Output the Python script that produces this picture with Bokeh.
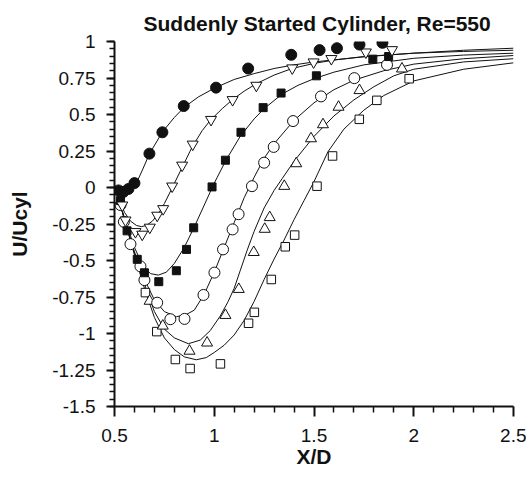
from bokeh.plotting import figure
from bokeh.models import Range1d, FixedTicker, CustomJSTickFormatter
from bokeh.embed import file_html
from bokeh.resources import INLINE

# ---------------- data ----------------
x_ticks = [0.5, 1.0, 1.5, 2.0, 2.5]
x_tick_labels = ["0.5", "1", "1.5", "2", "2.5"]
x_minor = [0.6, 0.7, 0.8, 0.9, 1.1, 1.2, 1.3, 1.4, 1.6, 1.7, 1.8, 1.9, 2.1, 2.2, 2.3, 2.4]
y_ticks = [-1.5, -1.25, -1.0, -0.75, -0.5, -0.25, 0.0, 0.25, 0.5, 0.75, 1.0]
y_tick_labels = ["-1.5", "-1.25", "-1", "-0.75", "-0.5", "-0.25", "0", "0.25", "0.5", "0.75", "1"]
y_minor = [round(-1.5 + 0.05 * i, 2) for i in range(51)]

# filled circles
fc_x = [0.52, 0.545, 0.57, 0.6, 0.675, 0.74, 0.847, 1.009, 1.17, 1.386, 1.528, 1.615, 1.728, 1.843]
fc_y = [-0.02, -0.03, -0.01, 0.03, 0.232, 0.378, 0.558, 0.684, 0.815, 0.909, 0.941, 0.954, 0.979, 0.991]
# open down triangles
dt_x = [0.539, 0.555, 0.605, 0.639, 0.677, 0.714, 0.744, 0.789, 0.839, 0.892, 0.984, 1.092, 1.211, 1.391, 1.498, 1.587, 1.76, 1.891]
dt_y = [-0.121, -0.224, -0.303, -0.321, -0.273, -0.191, -0.146, 0.009, 0.152, 0.296, 0.465, 0.601, 0.699, 0.818, 0.859, 0.882, 0.927, 0.943]
# filled squares
fs_x = [0.53, 0.563, 0.614, 0.65, 0.722, 0.81, 0.861, 0.897, 0.989, 1.056, 1.134, 1.245, 1.335, 1.512, 1.795, 1.874]
fs_y = [-0.09, -0.297, -0.492, -0.584, -0.645, -0.57, -0.424, -0.276, 0.004, 0.187, 0.378, 0.547, 0.647, 0.765, 0.879, 0.897]
# open circles
oc_x = [0.53, 0.547, 0.58, 0.63, 0.65, 0.714, 0.78, 0.851, 0.946, 1.001, 1.044, 1.092, 1.122, 1.189, 1.25, 1.298, 1.395, 1.535, 1.702, 1.866]
oc_y = [-0.12, -0.235, -0.388, -0.54, -0.634, -0.789, -0.902, -0.9, -0.736, -0.583, -0.424, -0.287, -0.183, 0.009, 0.17, 0.278, 0.455, 0.624, 0.749, 0.84]
# open up triangles
ut_x = [0.676, 0.742, 0.876, 0.964, 1.056, 1.123, 1.198, 1.253, 1.278, 1.351, 1.411, 1.485, 1.545, 1.623, 1.728, 1.941]
ut_y = [-0.778, -0.948, -1.12, -1.064, -0.875, -0.697, -0.444, -0.285, -0.205, 0.009, 0.164, 0.335, 0.431, 0.551, 0.665, 0.813]
# open squares
os_x = [0.655, 0.712, 0.805, 0.879, 1.031, 1.172, 1.201, 1.286, 1.356, 1.403, 1.515, 1.593, 1.727, 1.815, 1.977]
os_y = [-0.72, -0.987, -1.178, -1.24, -1.208, -0.93, -0.855, -0.63, -0.406, -0.326, 0.009, 0.216, 0.467, 0.597, 0.745]

# model curves
c1_x = [0.5, 0.54, 0.58, 0.61, 0.64, 0.675, 0.74, 0.8, 0.85, 0.92, 1.0, 1.1, 1.2, 1.3, 1.4, 1.5, 1.75, 2.0, 2.25, 2.5]
c1_y = [0.0, -0.03, -0.02, 0.03, 0.12, 0.23, 0.38, 0.48, 0.55, 0.62, 0.68, 0.74, 0.78, 0.815, 0.84, 0.86, 0.895, 0.92, 0.94, 0.954]
c2_x = [0.5, 0.52, 0.55, 0.58, 0.61, 0.635, 0.66, 0.69, 0.72, 0.75, 0.79, 0.84, 0.89, 0.94, 0.98, 1.04, 1.09, 1.15, 1.21, 1.3, 1.39, 1.5, 1.6, 1.75, 2.0, 2.25, 2.5]
c2_y = [0.0, -0.07, -0.17, -0.23, -0.26, -0.268, -0.26, -0.23, -0.18, -0.11, 0.0, 0.14, 0.28, 0.39, 0.46, 0.54, 0.6, 0.66, 0.71, 0.77, 0.815, 0.85, 0.873, 0.897, 0.92, 0.932, 0.94]
c3_x = [0.5, 0.52, 0.55, 0.6, 0.64, 0.68, 0.72, 0.76, 0.8, 0.85, 0.9, 0.95, 1.0, 1.06, 1.13, 1.2, 1.25, 1.34, 1.42, 1.5, 1.6, 1.75, 2.0, 2.25, 2.5]
c3_y = [0.0, -0.07, -0.21, -0.41, -0.53, -0.59, -0.6, -0.58, -0.52, -0.41, -0.27, -0.12, 0.03, 0.19, 0.35, 0.47, 0.54, 0.64, 0.7, 0.745, 0.79, 0.84, 0.885, 0.907, 0.92]
c4_x = [0.5, 0.52, 0.55, 0.6, 0.65, 0.7, 0.75, 0.81, 0.86, 0.9, 0.95, 1.0, 1.05, 1.1, 1.15, 1.2, 1.25, 1.3, 1.4, 1.5, 1.6, 1.7, 1.85, 2.0, 2.25, 2.5]
c4_y = [0.0, -0.07, -0.22, -0.44, -0.63, -0.77, -0.85, -0.885, -0.87, -0.84, -0.73, -0.58, -0.41, -0.24, -0.07, 0.07, 0.2, 0.3, 0.46, 0.58, 0.67, 0.735, 0.8, 0.845, 0.882, 0.904]
c5_x = [0.5, 0.52, 0.55, 0.6, 0.65, 0.7, 0.75, 0.8, 0.87, 0.93, 0.98, 1.03, 1.07, 1.1, 1.13, 1.165, 1.2, 1.25, 1.3, 1.34, 1.4, 1.5, 1.6, 1.7, 1.8, 1.9, 2.0, 2.25, 2.5]
c5_y = [0.0, -0.07, -0.22, -0.45, -0.66, -0.85, -0.97, -1.03, -1.07, -1.045, -0.98, -0.88, -0.78, -0.69, -0.57, -0.43, -0.3, -0.14, -0.02, 0.06, 0.18, 0.35, 0.49, 0.6, 0.69, 0.765, 0.81, 0.86, 0.882]
c6_x = [0.5, 0.52, 0.55, 0.6, 0.65, 0.7, 0.75, 0.8, 0.85, 0.91, 0.96, 1.0, 1.05, 1.1, 1.15, 1.2, 1.25, 1.3, 1.35, 1.4, 1.45, 1.5, 1.57, 1.65, 1.75, 1.85, 2.0, 2.25, 2.5]
c6_y = [0.0, -0.07, -0.22, -0.46, -0.69, -0.89, -1.03, -1.11, -1.16, -1.18, -1.165, -1.13, -1.08, -1.01, -0.91, -0.78, -0.63, -0.49, -0.36, -0.22, -0.09, 0.04, 0.245, 0.4, 0.53, 0.63, 0.73, 0.81, 0.854]

title_text = "Suddenly Started Cylinder, Re=550"
x_label = "X/D"
y_label = "U/Ucyl"

FONT = "Liberation Sans"
INK = "#111111"

p = figure(width=526, height=470, output_backend="svg", toolbar_location=None,
           x_range=Range1d(0.5, 2.5), y_range=Range1d(-1.5, 1.0),
           title=title_text,
           min_border_left=114, min_border_right=13, min_border_top=41, min_border_bottom=63)
p.outline_line_color = None
p.xgrid.visible = False
p.ygrid.visible = False
p.background_fill_color = "white"
p.border_fill_color = "white"

p.title.align = "left"
p.title.offset = 29
p.title.standoff = 13
p.title.text_font = FONT
p.title.text_font_size = "21px"
p.title.text_font_style = "bold"
p.title.text_color = INK

p.xaxis.ticker = FixedTicker(ticks=x_ticks, minor_ticks=x_minor)
p.yaxis.ticker = FixedTicker(ticks=y_ticks, minor_ticks=y_minor)
p.xaxis.formatter = CustomJSTickFormatter(args=dict(tv=x_ticks, tl=x_tick_labels), code="""
const i = tv.findIndex(t => Math.abs(t - tick) < 1e-9); return i >= 0 ? tl[i] : '';""")
p.yaxis.formatter = CustomJSTickFormatter(args=dict(tv=y_ticks, tl=y_tick_labels), code="""
const i = tv.findIndex(t => Math.abs(t - tick) < 1e-9); return i >= 0 ? tl[i] : '';""")

p.xaxis.axis_label = x_label
p.yaxis.axis_label = y_label

for ax in (p.xaxis[0], p.yaxis[0]):
    ax.axis_line_width = 2
    ax.axis_line_color = INK
    ax.major_tick_line_width = 2
    ax.major_tick_line_color = INK
    ax.minor_tick_line_width = 1.5
    ax.minor_tick_line_color = INK
    ax.major_tick_in = 0
    ax.minor_tick_in = 0
    ax.major_label_text_font = FONT
    ax.major_label_text_font_size = "19px"
    ax.major_label_text_color = INK
    ax.axis_label_text_font = FONT
    ax.axis_label_text_font_size = "21px"
    ax.axis_label_text_font_style = "bold"
    ax.axis_label_text_color = INK
p.xaxis.major_tick_out = 10
p.xaxis.minor_tick_out = 6
p.yaxis.major_tick_out = 8
p.yaxis.minor_tick_out = 5
p.xaxis.major_label_standoff = 12
p.yaxis.major_label_standoff = 11
p.xaxis.axis_label_standoff = 0
p.yaxis.axis_label_standoff = 18

curves = [(c1_x, c1_y), (c2_x, c2_y), (c3_x, c3_y), (c4_x, c4_y), (c5_x, c5_y), (c6_x, c6_y)]
for cx, cy in curves:
    p.line(cx, cy, line_width=1, line_color=INK)

p.scatter(os_x, os_y, marker="square", size=8.5, fill_color="white", line_color=INK, line_width=1)
p.scatter(ut_x, ut_y, marker="triangle", size=11, fill_color="white", line_color=INK, line_width=1)
p.scatter(oc_x, oc_y, marker="circle", size=11, fill_color="white", line_color=INK, line_width=1)
p.scatter(fs_x, fs_y, marker="square", size=8, fill_color=INK, line_color=INK, line_width=1)
p.scatter(dt_x, dt_y, marker="inverted_triangle", size=11, fill_color="white", line_color=INK, line_width=1)
p.scatter(fc_x, fc_y, marker="circle", size=11, fill_color=INK, line_color=INK, line_width=1)

open("out.html", "w").write(file_html(p, INLINE))
